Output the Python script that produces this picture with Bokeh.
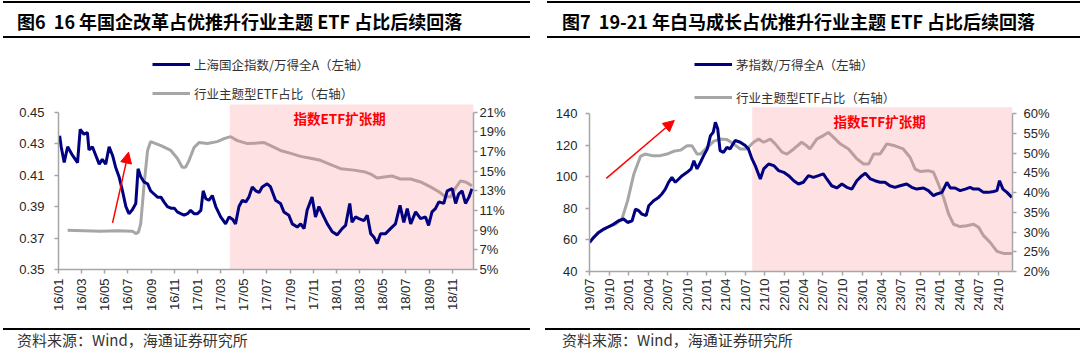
import math
import pandas as pd
from bokeh.plotting import figure
from bokeh.layouts import row, column
from bokeh.models import (Range1d, LinearAxis, FixedTicker, DatetimeTickFormatter,
                          NumeralTickFormatter, PrintfTickFormatter, Legend, LegendItem,
                          Label, Arrow, NormalHead, Div)
from bokeh.embed import file_html
from bokeh.resources import INLINE

# ---------------- Figure 6 data ----------------
title6 = "图6  16 年国企改革占优推升行业主题 ETF 占比后续回落"
legend6 = ["上海国企指数/万得全A（左轴）", "行业主题型ETF占比（右轴）"]
soe_dates = ["2016-01-04", "2016-01-08", "2016-01-16", "2016-01-25", "2016-02-07", "2016-02-20",
             "2016-02-27", "2016-03-08", "2016-03-17", "2016-03-21", "2016-03-30", "2016-04-08",
             "2016-04-17", "2016-04-25", "2016-05-04", "2016-05-13", "2016-05-22", "2016-05-30",
             "2016-06-08", "2016-06-17", "2016-06-26", "2016-07-04", "2016-07-13", "2016-07-22",
             "2016-07-28", "2016-08-04", "2016-08-13", "2016-08-22", "2016-08-30", "2016-09-08",
             "2016-09-17", "2016-09-26", "2016-10-04", "2016-10-13", "2016-10-22", "2016-10-31",
             "2016-11-08", "2016-11-17", "2016-11-26", "2016-12-05", "2016-12-13", "2016-12-22",
             "2016-12-31", "2017-01-09", "2017-01-15", "2017-01-22", "2017-01-30", "2017-02-08",
             "2017-02-17", "2017-03-02", "2017-03-15", "2017-03-24", "2017-04-02", "2017-04-10",
             "2017-04-19", "2017-04-28", "2017-05-07", "2017-05-15", "2017-05-24", "2017-06-02",
             "2017-06-11", "2017-06-19", "2017-07-02", "2017-07-11", "2017-07-24", "2017-08-06",
             "2017-08-15", "2017-08-28", "2017-09-06", "2017-09-19", "2017-09-28", "2017-10-07",
             "2017-10-15", "2017-10-28", "2017-11-06", "2017-11-15", "2017-11-28", "2017-12-07",
             "2017-12-20", "2018-01-02", "2018-01-15", "2018-01-24", "2018-02-04", "2018-02-10",
             "2018-02-19", "2018-02-28", "2018-03-13", "2018-03-22", "2018-03-31", "2018-04-08",
             "2018-04-17", "2018-04-26", "2018-05-09", "2018-05-22", "2018-06-04", "2018-06-16",
             "2018-06-26", "2018-07-05", "2018-07-14", "2018-07-27", "2018-08-09", "2018-08-22",
             "2018-08-30", "2018-09-08", "2018-09-17", "2018-09-26", "2018-10-09", "2018-10-18",
             "2018-10-31", "2018-11-09", "2018-11-17", "2018-11-26", "2018-12-05", "2018-12-14",
             "2018-12-22"]
soe_ratio = [0.435, 0.428, 0.418, 0.428, 0.4225, 0.418,
             0.439, 0.436, 0.437, 0.426, 0.428, 0.4225,
             0.417, 0.420, 0.417, 0.428, 0.4225, 0.415,
             0.409, 0.400, 0.390, 0.3855, 0.388, 0.392,
             0.414, 0.409, 0.4055, 0.4045, 0.400, 0.398,
             0.396, 0.396, 0.393, 0.390, 0.389, 0.389,
             0.3866, 0.3855, 0.3845, 0.3855, 0.3876, 0.3855,
             0.3855, 0.3876, 0.400, 0.395, 0.394, 0.397,
             0.390, 0.3834, 0.379, 0.3834, 0.382, 0.379,
             0.390, 0.394, 0.393, 0.396, 0.4025, 0.400,
             0.399, 0.4025, 0.4045, 0.4025, 0.394, 0.392,
             0.3866, 0.3845, 0.379, 0.377, 0.379, 0.376,
             0.3876, 0.396, 0.3834, 0.390, 0.3834, 0.379,
             0.374, 0.372, 0.376, 0.378, 0.392, 0.380,
             0.3834, 0.3823, 0.381, 0.3845, 0.3728, 0.3707,
             0.3665, 0.3728, 0.3728, 0.376, 0.379, 0.3908,
             0.380, 0.3887, 0.379, 0.3866, 0.3823, 0.3834,
             0.378, 0.3866, 0.3887, 0.393, 0.392, 0.400,
             0.4014, 0.392, 0.398, 0.400, 0.392, 0.396,
             0.4014]
etf6_dates = ["2016-01-25", "2016-03-08", "2016-04-21", "2016-06-04", "2016-07-13", "2016-07-22",
              "2016-07-29", "2016-08-04", "2016-08-13", "2016-08-22", "2016-08-30", "2016-09-26",
              "2016-10-22", "2016-11-08", "2016-11-21", "2016-11-30", "2016-12-09", "2016-12-22",
              "2017-01-04", "2017-01-26", "2017-02-21", "2017-03-11", "2017-03-28", "2017-04-15",
              "2017-05-11", "2017-06-06", "2017-06-24", "2017-07-11", "2017-08-06", "2017-09-02",
              "2017-09-28", "2017-10-24", "2017-11-19", "2017-12-16", "2018-01-11", "2018-02-15",
              "2018-03-17", "2018-03-31", "2018-04-17", "2018-05-05", "2018-05-26", "2018-06-17",
              "2018-07-14", "2018-08-09", "2018-09-04", "2018-09-26", "2018-10-13", "2018-10-27",
              "2018-11-09", "2018-11-22", "2018-12-05", "2018-12-14", "2018-12-22"]
etf6_share = [9.0, 8.95, 8.9, 8.95, 8.9, 8.65,
              8.8, 9.67, 13.7, 17.1, 18.0, 17.6,
              17.1, 16.3, 15.4, 15.4, 16.1, 17.4,
              17.9, 17.8, 18.0, 18.3, 18.5, 18.1,
              17.8, 17.85, 17.9, 17.6, 17.1, 16.8,
              16.5, 16.3, 16.1, 15.65, 15.25, 15.1,
              14.9, 14.7, 14.3, 14.4, 14.5, 14.2,
              14.2, 13.9, 13.4, 12.9, 12.4, 12.4,
              13.3, 14.0, 13.9, 13.7, 13.5]
ticks6 = ["2016-01", "2016-03", "2016-05", "2016-07", "2016-09", "2016-11",
          "2017-01", "2017-03", "2017-05", "2017-07", "2017-09", "2017-11",
          "2018-01", "2018-03", "2018-05", "2018-07", "2018-09", "2018-11"]
yticks6 = [0.35, 0.37, 0.39, 0.41, 0.43, 0.45]
y2ticks6 = [5, 7, 9, 11, 13, 15, 17, 19, 21]
xspan6 = ["2016-01-01", "2018-12-26"]
shade6 = "2017-03-26"
arrow6 = ["2016-05-22", 0.3796, "2016-07-03", 0.4246]

# ---------------- Figure 7 data ----------------
title7 = "图7  19-21 年白马成长占优推升行业主题 ETF 占比后续回落"
legend7 = ["茅指数/万得全A（左轴）", "行业主题型ETF占比（右轴）"]
mao_dates = ["2019-07-01", "2019-07-20", "2019-08-13", "2019-09-06", "2019-09-29", "2019-10-23",
             "2019-11-15", "2019-12-08", "2019-12-27", "2020-01-17", "2020-02-02", "2020-02-17",
             "2020-03-03", "2020-03-23", "2020-04-04", "2020-04-27", "2020-05-20", "2020-06-05",
             "2020-06-21", "2020-07-06", "2020-07-22", "2020-08-07", "2020-08-23", "2020-09-08",
             "2020-10-01", "2020-10-20", "2020-11-02", "2020-11-17", "2020-12-03", "2020-12-18",
             "2021-01-04", "2021-01-19", "2021-02-01", "2021-02-11", "2021-02-22", "2021-03-05",
             "2021-03-21", "2021-04-06", "2021-04-21", "2021-05-15", "2021-06-08", "2021-07-01",
             "2021-07-16", "2021-08-02", "2021-08-17", "2021-09-10", "2021-09-26", "2021-10-19",
             "2021-11-12", "2021-12-05", "2021-12-29", "2022-01-21", "2022-02-14", "2022-03-08",
             "2022-03-31", "2022-04-24", "2022-05-17", "2022-06-10", "2022-07-03", "2022-07-19",
             "2022-08-11", "2022-09-04", "2022-09-28", "2022-10-21", "2022-11-14", "2022-12-07",
             "2022-12-31", "2023-01-16", "2023-02-09", "2023-03-02", "2023-03-26", "2023-04-18",
             "2023-05-11", "2023-06-04", "2023-06-28", "2023-07-29", "2023-08-22", "2023-09-14",
             "2023-10-16", "2023-11-08", "2023-12-02", "2023-12-18", "2024-01-11", "2024-02-03",
             "2024-02-19", "2024-03-12", "2024-04-05", "2024-04-29", "2024-05-22", "2024-06-07",
             "2024-07-01", "2024-07-24", "2024-08-16", "2024-09-09", "2024-09-25", "2024-10-07",
             "2024-10-23", "2024-11-11", "2024-12-04"]
mao_ratio = [58.4, 61.6, 64.8, 66.9, 68.4, 70.1,
             72.2, 73.3, 71.1, 72.2, 79.6, 78.6,
             76.4, 75.4, 81.7, 84.9, 87.0, 89.2,
             92.3, 96.6, 99.7, 96.6, 98.7, 100.8,
             102.9, 105.1, 110.3, 105.1, 109.3, 113.5,
             117.8, 126.2, 128.3, 134.7, 130.5, 116.7,
             115.6, 118.8, 117.8, 123.1, 122.0, 119.9,
             117.8, 111.4, 107.2, 98.7, 105.1, 108.2,
             107.2, 104.0, 102.9, 100.8, 97.6, 95.5,
             96.6, 100.8, 99.7, 100.8, 101.9, 98.7,
             94.4, 93.0, 95.5, 93.4, 92.3, 97.6,
             100.8, 102.3, 98.7, 97.6, 96.6, 96.6,
             94.4, 93.4, 94.4, 95.5, 93.4, 92.3,
             93.0, 91.3, 88.1, 89.2, 90.2, 96.6,
             93.0, 93.0, 91.3, 92.3, 93.4, 92.3,
             92.3, 90.2, 90.2, 90.8, 91.3, 97.6,
             92.3, 90.2, 87.0]
etf7_dates = ["2019-07-20", "2019-08-13", "2019-09-21", "2019-10-30", "2019-11-30", "2019-12-27",
              "2020-01-25", "2020-02-25", "2020-03-18", "2020-04-19", "2020-05-28", "2020-06-29",
              "2020-07-30", "2020-08-31", "2020-10-01", "2020-10-24", "2020-11-17", "2020-12-03",
              "2021-01-04", "2021-02-04", "2021-03-05", "2021-04-06", "2021-05-07", "2021-06-08",
              "2021-07-09", "2021-08-09", "2021-09-02", "2021-09-26", "2021-10-27", "2021-11-19",
              "2021-12-21", "2022-01-13", "2022-02-14", "2022-03-23", "2022-04-16", "2022-05-01",
              "2022-06-02", "2022-07-03", "2022-07-26", "2022-08-19", "2022-09-20", "2022-10-29",
              "2022-12-07", "2023-01-08", "2023-02-01", "2023-02-24", "2023-03-26", "2023-04-27",
              "2023-06-04", "2023-07-13", "2023-08-14", "2023-09-07", "2023-09-30", "2023-11-08",
              "2023-12-02", "2023-12-25", "2024-01-18", "2024-02-11", "2024-03-05", "2024-04-05",
              "2024-05-06", "2024-06-07", "2024-07-01", "2024-07-24", "2024-08-24", "2024-09-25",
              "2024-10-26", "2024-12-04"]
etf7_share = [28.5, 29.9, 31.2, 32.0, 33.3, 38.0,
              44.7, 49.2, 49.8, 49.4, 49.4, 49.8,
              50.5, 50.8, 51.9, 51.9, 49.8, 49.8,
              51.5, 53.1, 53.6, 53.5, 52.4, 51.1,
              51.1, 52.8, 53.6, 52.8, 53.6, 52.4,
              50.3, 49.8, 51.1, 52.8, 51.9, 51.1,
              53.6, 54.5, 55.3, 54.1, 52.4, 51.1,
              48.6, 47.3, 47.3, 49.8, 49.8, 52.4,
              51.9, 51.1, 49.0, 46.0, 45.4, 45.6,
              45.2, 42.2, 38.8, 34.6, 32.0, 31.4,
              31.6, 32.0, 31.2, 29.1, 27.4, 25.1,
              24.6, 24.6]
ticks7 = ["2019-07", "2019-10", "2020-01", "2020-04", "2020-07", "2020-10",
          "2021-01", "2021-04", "2021-07", "2021-10", "2022-01", "2022-04",
          "2022-07", "2022-10", "2023-01", "2023-04", "2023-07", "2023-10",
          "2024-01", "2024-04", "2024-07", "2024-10"]
yticks7 = [40, 60, 80, 100, 120, 140]
y2ticks7 = [20, 25, 30, 35, 40, 45, 50, 55, 60]
xspan7 = ["2019-07-01", "2024-12-07"]
shade7 = "2021-08-03"
arrow7 = ["2019-09-18", 99.1, "2020-08-02", 135.8]

shade_label = "指数ETF扩张期"
source_text = "资料来源：Wind，海通证券研究所"

# ---------------- styling ----------------
NAVY = "#000080"
GRAY = "#A6A6A6"
PINK = (247, 135, 143)
AXIS = "#A6A6A6"
LAT = "Liberation Sans"
CJK = "Noto Sans CJK SC"
W = 540


def ms(d):
    return pd.Timestamp(d).value / 1e6


def style_axis(ax, standoff):
    ax.axis_line_color = AXIS
    ax.axis_line_width = 1.5
    ax.major_tick_line_color = AXIS
    ax.major_tick_line_width = 1.5
    ax.major_tick_out = 4
    ax.major_tick_in = 0
    ax.minor_tick_line_color = None
    ax.major_label_text_font = LAT
    ax.major_label_text_font_size = "13px"
    ax.major_label_text_color = "#262626"
    ax.major_label_standoff = standoff


def header(title, tx, rx0, rx1):
    html = (
        f'<div style="position:relative;width:{W}px;height:44px;font-family:\'{CJK}\';">'
        f'<div style="position:absolute;left:{rx0}px;top:1px;width:{rx1 - rx0}px;'
        f'height:0;border-top:2px solid #000;"></div>'
        f'<div style="position:absolute;left:{tx}px;top:8px;font-size:18px;font-weight:bold;'
        f'line-height:26px;white-space:pre;color:#000;">{title}</div>'
        f'<div style="position:absolute;left:{rx0}px;top:36px;width:{rx1 - rx0}px;'
        f'height:0;border-top:2px solid #000;"></div>'
        f'</div>')
    return Div(text=html, width=W, height=44, margin=0)


def footer(tx, rx0, rx1):
    html = (
        f'<div style="position:relative;width:{W}px;height:32px;font-family:\'{CJK}\';">'
        f'<div style="position:absolute;left:{rx0}px;top:3px;width:{rx1 - rx0}px;'
        f'height:0;border-top:2px solid #000;"></div>'
        f'<div style="position:absolute;left:{tx}px;top:4px;font-size:15px;'
        f'line-height:22px;white-space:pre;color:#333;">{source_text}</div>'
        f'</div>')
    return Div(text=html, width=W, height=32, margin=0)


def main(cfg):
    p = figure(width=W, height=281, x_axis_type="datetime",
               x_range=Range1d(ms(cfg["xspan"][0]), ms(cfg["xspan"][1])),
               y_range=Range1d(*cfg["yr"]), output_backend="svg", toolbar_location=None,
               min_border_left=cfg["bl"], min_border_right=cfg["br"],
               min_border_top=cfg["bt"], min_border_bottom=cfg["bb"])
    p.extra_y_ranges = {"right": Range1d(*cfg["y2r"])}
    p.grid.visible = False
    p.outline_line_color = None

    r_gray = p.line(pd.to_datetime(cfg["d2"]), cfg["v2"], y_range_name="right",
                    line_color=GRAY, line_width=3)
    p.quad(left=[ms(cfg["shade"])], right=[ms(cfg["xspan"][1])],
           bottom=[cfg["yr"][0]], top=[cfg["shade_top"]],
           fill_color=PINK, fill_alpha=0.25, line_color=None)
    r_navy = p.line(pd.to_datetime(cfg["d1"]), cfg["v1"], line_color=NAVY, line_width=3)

    xa = p.xaxis[0]
    xa.ticker = FixedTicker(ticks=[ms(t) for t in cfg["xticks"]])
    fmt = "%y/%m"
    xa.formatter = DatetimeTickFormatter(microseconds=fmt, milliseconds=fmt, seconds=fmt,
                                         minsec=fmt, minutes=fmt, hourmin=fmt, hours=fmt,
                                         days=fmt, months=fmt, years=fmt)
    xa.major_label_orientation = math.pi / 2
    style_axis(xa, cfg["sx"])

    ya = p.yaxis[0]
    ya.ticker = FixedTicker(ticks=cfg["yticks"])
    ya.formatter = NumeralTickFormatter(format=cfg["yfmt"])
    ya.bounds = (cfg["yticks"][0], cfg["yticks"][-1])
    style_axis(ya, cfg["sy"])

    ya2 = LinearAxis(y_range_name="right", ticker=FixedTicker(ticks=cfg["y2ticks"]),
                     formatter=PrintfTickFormatter(format="%d%%"),
                     bounds=(cfg["y2ticks"][0], cfg["y2ticks"][-1]))
    style_axis(ya2, cfg["sy2"])
    p.add_layout(ya2, "right")

    leg = Legend(items=[LegendItem(label=cfg["legend"][0], renderers=[r_navy]),
                        LegendItem(label=cfg["legend"][1], renderers=[r_gray])],
                 location=cfg["legloc"], orientation="vertical",
                 glyph_width=38, glyph_height=20, label_height=20, label_standoff=4,
                 spacing=cfg["legsp"], padding=0, margin=0,
                 border_line_color=None, background_fill_alpha=0,
                 label_text_font=CJK, label_text_font_size="12.5px",
                 label_text_color="#333333")
    p.add_layout(leg, "center")

    p.add_layout(Label(x=cfg["tag"][0], y=cfg["tag"][1], x_units="screen", y_units="screen",
                       text=shade_label, text_color="#FF0000", text_font=CJK,
                       text_font_style="bold", text_font_size="13.5px",
                       text_baseline="middle"))

    a = cfg["arrow"]
    p.add_layout(Arrow(end=NormalHead(size=11, fill_color="#FF0000", line_color="#FF0000"),
                       x_start=ms(a[0]), y_start=a[1], x_end=ms(a[2]), y_end=a[3],
                       line_color="#FF0000", line_width=1.5))
    return p


# frame spans from just under the header rule to the x axis; the legend sits inside it
cfg6 = dict(xspan=xspan6, yr=(0.35, 0.4892), y2r=(5, 27.26), shade_top=0.4549,
            bl=58, br=67, bt=6, bb=56,
            d1=soe_dates, v1=soe_ratio, d2=etf6_dates, v2=etf6_share, shade=shade6,
            xticks=ticks6, yticks=yticks6, y2ticks=y2ticks6, yfmt="0.00",
            sx=5, sy=10, sy2=2, legend=legend6, legloc=(94, 166), legsp=9,
            tag=(235, 152), arrow=arrow6)
cfg7 = dict(xspan=xspan7, yr=(40, 180.2), y2r=(20, 76.09), shade_top=144.2,
            bl=49, br=68, bt=6, bb=54,
            d1=mao_dates, v1=mao_ratio, d2=etf7_dates, v2=etf7_share, shade=shade7,
            xticks=ticks7, yticks=yticks7, y2ticks=y2ticks7, yfmt="0",
            sx=3, sy=8, sy2=7, legend=legend7, legloc=(105, 164), legsp=13,
            tag=(244, 151), arrow=arrow7)

left = column(header(title6, 17, 3, 530), main(cfg6), footer(17, 3, 530), spacing=0)
right = column(header(title7, 22, 7, 540), main(cfg7), footer(22, 5, 540), spacing=0)
layout = row(left, right, spacing=0)

open("out.html", "w").write(file_html(layout, INLINE))
